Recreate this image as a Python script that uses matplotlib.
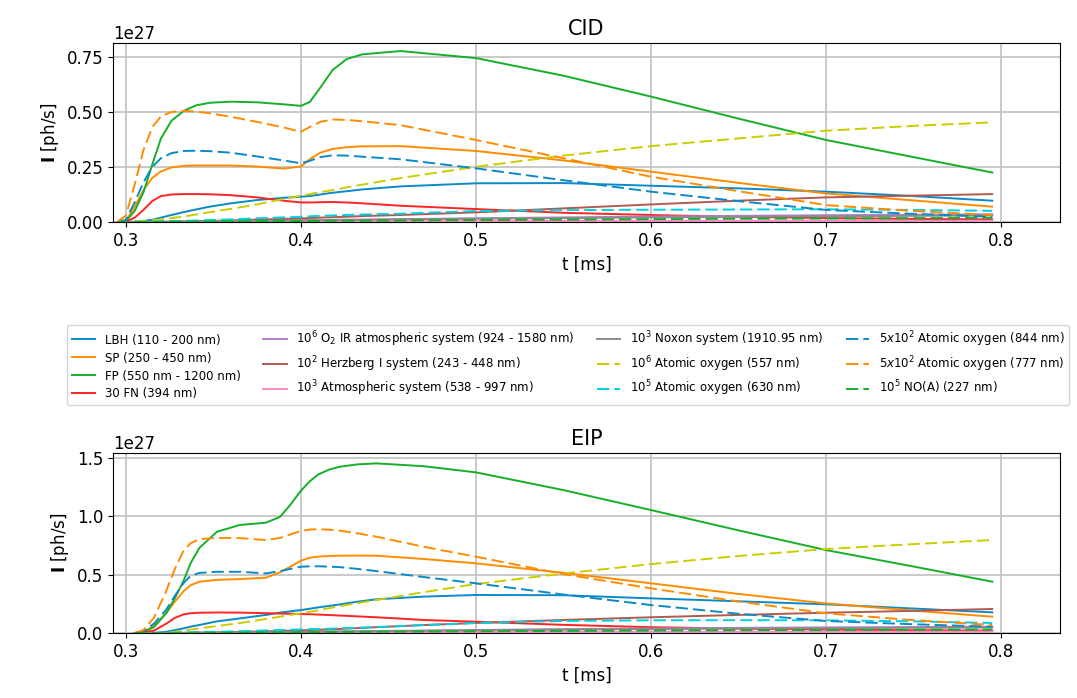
import matplotlib
matplotlib.use("Agg")
import matplotlib.pyplot as plt
from matplotlib.ticker import ScalarFormatter

# ---- CID panel (units of 1e27 ph/s) ----
t_cid = [0.295, 0.300, 0.305, 0.310, 0.315, 0.320, 0.326, 0.333, 0.340, 0.348, 0.360, 0.375, 0.390, 0.400,
         0.405, 0.411, 0.418, 0.426, 0.435, 0.457, 0.500, 0.550, 0.600, 0.650, 0.700, 0.750, 0.795]
cid_lbh = [0, 0, 0.002, 0.005, 0.01, 0.02, 0.032, 0.045, 0.057, 0.07, 0.085, 0.1, 0.11, 0.115,
           0.118, 0.125, 0.133, 0.14, 0.148, 0.162, 0.176, 0.177, 0.165, 0.153, 0.138, 0.118, 0.097]
cid_sp = [0, 0.005, 0.07, 0.145, 0.2, 0.23, 0.248, 0.255, 0.257, 0.257, 0.257, 0.252, 0.243, 0.252,
          0.285, 0.315, 0.332, 0.34, 0.344, 0.345, 0.323, 0.28, 0.229, 0.178, 0.130, 0.098, 0.070]
cid_fp = [0, 0.005, 0.05, 0.135, 0.26, 0.38, 0.46, 0.505, 0.53, 0.542, 0.547, 0.544, 0.535, 0.528,
          0.545, 0.61, 0.69, 0.74, 0.762, 0.777, 0.745, 0.665, 0.57, 0.47, 0.373, 0.295, 0.225]
cid_fn = [0, 0.002, 0.02, 0.055, 0.095, 0.118, 0.125, 0.127, 0.127, 0.126, 0.122, 0.112, 0.097, 0.089,
          0.089, 0.09, 0.091, 0.089, 0.085, 0.074, 0.059, 0.042, 0.032, 0.024, 0.018, 0.014, 0.012]
cid_o2ir = [0, 0, 0, 0, 0, 0.001, 0.001, 0.002, 0.002, 0.003, 0.004, 0.006, 0.007, 0.008,
            0.009, 0.009, 0.010, 0.011, 0.011, 0.013, 0.017, 0.021, 0.025, 0.028, 0.031, 0.033, 0.035]
cid_herz = [0, 0, 0, 0, 0, 0.001, 0.002, 0.003, 0.004, 0.005, 0.007, 0.011, 0.014, 0.017,
            0.018, 0.020, 0.022, 0.024, 0.027, 0.032, 0.044, 0.062, 0.080, 0.097, 0.112, 0.120, 0.127]
cid_atm = [0, 0, 0, 0, 0, 0, 0, 0.001, 0.001, 0.001, 0.002, 0.002, 0.002, 0.003,
           0.003, 0.003, 0.003, 0.003, 0.003, 0.004, 0.004, 0.005, 0.005, 0.005, 0.006, 0.006, 0.006]
cid_noxon = [0, 0, 0, 0, 0, 0.001, 0.001, 0.002, 0.002, 0.003, 0.004, 0.005, 0.006, 0.007,
             0.008, 0.008, 0.009, 0.009, 0.010, 0.012, 0.015, 0.018, 0.021, 0.024, 0.026, 0.028, 0.030]
cid_557 = [0, 0, 0.002, 0.005, 0.008, 0.012, 0.018, 0.025, 0.034, 0.045, 0.06, 0.08, 0.105, 0.12,
           0.127, 0.136, 0.145, 0.157, 0.17, 0.2, 0.251, 0.302, 0.345, 0.38, 0.415, 0.437, 0.453]
cid_630 = [0, 0, 0, 0.001, 0.002, 0.003, 0.004, 0.005, 0.007, 0.009, 0.012, 0.017, 0.021, 0.024,
           0.026, 0.028, 0.030, 0.032, 0.034, 0.038, 0.050, 0.054, 0.056, 0.057, 0.058, 0.055, 0.051]
cid_844 = [0, 0.01, 0.09, 0.18, 0.25, 0.29, 0.313, 0.323, 0.324, 0.322, 0.315, 0.298, 0.28, 0.267,
           0.278, 0.295, 0.303, 0.302, 0.297, 0.285, 0.244, 0.19, 0.138, 0.095, 0.055, 0.037, 0.024]
cid_777 = [0, 0.03, 0.17, 0.327, 0.43, 0.48, 0.5, 0.505, 0.502, 0.494, 0.478, 0.455, 0.43, 0.41,
           0.432, 0.455, 0.466, 0.464, 0.458, 0.44, 0.373, 0.29, 0.206, 0.14, 0.077, 0.05, 0.032]
cid_noa = [0, 0, 0, 0, 0, 0.001, 0.001, 0.002, 0.002, 0.003, 0.003, 0.004, 0.005, 0.005,
           0.005, 0.005, 0.006, 0.006, 0.006, 0.007, 0.009, 0.011, 0.013, 0.015, 0.016, 0.018, 0.019]

# ---- EIP panel (units of 1e27 ph/s) ----
t_eip = [0.305, 0.310, 0.316, 0.323, 0.328, 0.333, 0.337, 0.342, 0.352, 0.365, 0.380, 0.388, 0.394, 0.400,
         0.405, 0.410, 0.416, 0.422, 0.432, 0.443, 0.470, 0.500, 0.550, 0.600, 0.650, 0.700, 0.750, 0.795]
eip_lbh = [0, 0, 0.002, 0.01, 0.025, 0.04, 0.055, 0.069, 0.1, 0.125, 0.155, 0.175, 0.186, 0.197,
           0.208, 0.22, 0.232, 0.245, 0.268, 0.289, 0.312, 0.326, 0.324, 0.297, 0.272, 0.246, 0.21, 0.177]
eip_sp = [0, 0.01, 0.06, 0.17, 0.27, 0.36, 0.41, 0.44, 0.455, 0.462, 0.474, 0.52, 0.57, 0.62,
          0.645, 0.655, 0.66, 0.663, 0.664, 0.663, 0.635, 0.597, 0.516, 0.426, 0.335, 0.254, 0.192, 0.14]
eip_fp = [0, 0.01, 0.05, 0.17, 0.3, 0.45, 0.6, 0.73, 0.868, 0.926, 0.946, 0.995, 1.1, 1.22,
          1.3, 1.36, 1.4, 1.425, 1.445, 1.454, 1.43, 1.377, 1.225, 1.054, 0.88, 0.711, 0.57, 0.44]
eip_fn = [0, 0.005, 0.02, 0.08, 0.13, 0.16, 0.17, 0.174, 0.176, 0.175, 0.17, 0.167, 0.165, 0.163,
          0.161, 0.158, 0.154, 0.15, 0.143, 0.135, 0.112, 0.097, 0.07, 0.05, 0.038, 0.03, 0.024, 0.02]
eip_o2ir = [0, 0, 0, 0, 0, 0.001, 0.001, 0.002, 0.003, 0.005, 0.007, 0.008, 0.009, 0.010,
            0.011, 0.012, 0.013, 0.014, 0.015, 0.017, 0.021, 0.026, 0.033, 0.039, 0.044, 0.048, 0.051, 0.054]
eip_herz = [0, 0, 0, 0, 0.001, 0.002, 0.003, 0.004, 0.006, 0.010, 0.015, 0.018, 0.020, 0.023,
            0.025, 0.028, 0.031, 0.035, 0.042, 0.050, 0.068, 0.086, 0.112, 0.135, 0.155, 0.174, 0.19, 0.206]
eip_atm = [0, 0, 0, 0, 0, 0, 0, 0.001, 0.001, 0.002, 0.003, 0.003, 0.003, 0.004,
           0.004, 0.004, 0.005, 0.005, 0.005, 0.006, 0.007, 0.008, 0.009, 0.010, 0.010, 0.011, 0.011, 0.012]
eip_noxon = [0, 0, 0, 0, 0, 0.001, 0.001, 0.002, 0.003, 0.004, 0.006, 0.007, 0.007, 0.008,
             0.009, 0.010, 0.011, 0.012, 0.013, 0.015, 0.019, 0.023, 0.029, 0.034, 0.038, 0.042, 0.045, 0.047]
eip_557 = [0, 0, 0, 0.002, 0.01, 0.02, 0.03, 0.04, 0.06, 0.085, 0.12, 0.14, 0.155, 0.169,
           0.182, 0.195, 0.212, 0.23, 0.255, 0.283, 0.35, 0.42, 0.51, 0.591, 0.66, 0.72, 0.762, 0.797]
eip_630 = [0, 0, 0, 0.001, 0.003, 0.005, 0.006, 0.008, 0.010, 0.015, 0.022, 0.026, 0.028, 0.031,
           0.033, 0.035, 0.037, 0.040, 0.045, 0.050, 0.068, 0.086, 0.103, 0.109, 0.110, 0.109, 0.100, 0.086]
eip_844 = [0, 0.015, 0.08, 0.2, 0.32, 0.43, 0.49, 0.515, 0.525, 0.525, 0.511, 0.53, 0.55, 0.568,
           0.572, 0.572, 0.569, 0.565, 0.55, 0.531, 0.48, 0.426, 0.33, 0.24, 0.165, 0.103, 0.075, 0.054]
eip_777 = [0, 0.026, 0.13, 0.36, 0.55, 0.71, 0.77, 0.805, 0.815, 0.814, 0.797, 0.815, 0.845, 0.875,
           0.887, 0.89, 0.886, 0.878, 0.855, 0.826, 0.74, 0.654, 0.505, 0.383, 0.27, 0.169, 0.11, 0.069]
eip_noa = [0, 0, 0, 0, 0, 0.001, 0.001, 0.002, 0.003, 0.004, 0.005, 0.006, 0.006, 0.007,
           0.007, 0.008, 0.008, 0.009, 0.010, 0.011, 0.013, 0.015, 0.018, 0.021, 0.024, 0.026, 0.028, 0.030]

labels = [
    "LBH (110 - 200 nm)",
    "SP (250 - 450 nm)",
    "FP (550 nm - 1200 nm)",
    "30 FN (394 nm)",
    r"10$^6$ O$_2$ IR atmospheric system (924 - 1580 nm)",
    r"10$^2$ Herzberg I system (243 - 448 nm)",
    r"10$^3$ Atmospheric system (538 - 997 nm)",
    r"10$^3$ Noxon system (1910.95 nm)",
    r"10$^6$ Atomic oxygen (557 nm)",
    r"10$^5$ Atomic oxygen (630 nm)",
    r"$5x10^2$ Atomic oxygen (844 nm)",
    r"$5x10^2$ Atomic oxygen (777 nm)",
    r"10$^5$ NO(A) (227 nm)",
]
colors = ["#0a8ac8", "#ff8c00", "#15b02a", "#ff2424", "#b07cd0", "#b05a50",
          "#ff88c8", "#8c8c8c", "#cccc00", "#00d0e0", "#0a8ac8", "#ff8c00", "#15b02a"]
dash = (0, (6.3, 2.6))
styles = ["-"] * 8 + [dash] * 5

cid = [cid_lbh, cid_sp, cid_fp, cid_fn, cid_o2ir, cid_herz, cid_atm,
       cid_noxon, cid_557, cid_630, cid_844, cid_777, cid_noa]
eip = [eip_lbh, eip_sp, eip_fp, eip_fn, eip_o2ir, eip_herz, eip_atm,
       eip_noxon, eip_557, eip_630, eip_844, eip_777, eip_noa]


class Fixed27(ScalarFormatter):
    def _set_order_of_magnitude(self):
        self.orderOfMagnitude = 27


fig = plt.figure(figsize=(10.77, 6.98), dpi=100)
ax1 = fig.add_axes([0.1049, 0.6819, 0.8793, 0.2565])
ax2 = fig.add_axes([0.1049, 0.0931, 0.8793, 0.2579])

for ax, t, series, title, top in [(ax1, t_cid, cid, "CID", 0.8136),
                                  (ax2, t_eip, eip, "EIP", 1.543)]:
    ax.grid(True, color="#c0c0c0", linewidth=1.2)
    ax.set_axisbelow(True)
    for ys, c, ls, lab in zip(series, colors, styles, labels):
        ax.plot(t, [v * 1e27 for v in ys], color=c, linestyle=ls, linewidth=1.4, label=lab)
    ax.set_xlim(0.2926, 0.8337)
    ax.set_ylim(0, top * 1e27)
    ax.yaxis.set_major_formatter(Fixed27())
    ax.set_title(title, fontsize=15)
    ax.set_xlabel("t [ms]", fontsize=12)
    ax.set_ylabel(r"$\mathbf{I}$ [ph/s]", fontsize=12)
    ax.tick_params(labelsize=12)
    ax.yaxis.get_offset_text().set_fontsize(12)

ax1.set_yticks([0, 0.25e27, 0.5e27, 0.75e27])
ax2.set_yticks([0, 0.5e27, 1.0e27, 1.5e27])

handles, labs = ax1.get_legend_handles_labels()
fig.legend(handles, labs, loc="upper center", bbox_to_anchor=(0.5274, 0.5344),
           borderaxespad=0, ncol=4, fontsize=8.5, columnspacing=1.9,
           handlelength=2.0, labelspacing=0.42)

fig.savefig("out.png", dpi=100)
